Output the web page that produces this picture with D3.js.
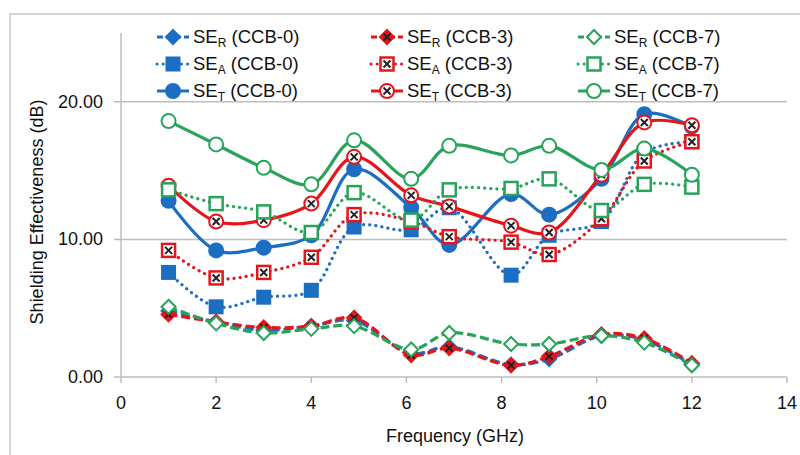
<!DOCTYPE html>
<html>
<head>
<meta charset="utf-8">
<script src="https://cdn.jsdelivr.net/npm/d3@7"></script>
<style>
  html, body { margin: 0; padding: 0; background: #fff; }
  svg { display: block; font-family: "Liberation Sans", Arial, sans-serif; }
</style>
</head>
<body>
<div id="chart-area"></div>
<script>
const freq = [1, 2, 3, 4, 4.9, 6.1, 6.9, 8.2, 9, 10.1, 11, 12];

const seR0 = [4.8, 4.0, 3.4, 3.7, 4.1, 1.7, 2.2, 0.9, 1.3, 3.0, 2.7, 0.9];
const seR3 = [4.55, 4.0, 3.6, 3.7, 4.3, 1.6, 2.1, 0.85, 1.5, 3.1, 2.8, 1.0];
const seR7 = [5.1, 3.9, 3.2, 3.5, 3.7, 2.0, 3.2, 2.4, 2.4, 3.0, 2.5, 0.85];
const seA0 = [7.6, 5.1, 5.8, 6.3, 10.9, 10.7, 12.3, 7.4, 10.3, 11.3, 16.3, 17.1];
const seA3 = [9.2, 7.2, 7.6, 8.7, 11.8, 11.3, 10.2, 9.8, 8.9, 11.5, 15.7, 17.1];
const seA7 = [13.6, 12.6, 12.0, 10.5, 13.4, 11.4, 13.6, 13.7, 14.4, 12.1, 14.0, 13.8];
const seT0 = [12.8, 9.2, 9.4, 10.3, 15.1, 12.3, 9.6, 13.3, 11.8, 14.4, 19.1, 18.2];
const seT3 = [13.9, 11.3, 11.4, 12.6, 16.0, 13.2, 12.4, 11.0, 10.5, 14.7, 18.5, 18.3];
const seT7 = [18.6, 16.9, 15.2, 14.0, 17.2, 14.4, 16.8, 16.1, 16.8, 15.05, 16.6, 14.7];

const xTicks = [0, 2, 4, 6, 8, 10, 12, 14];
const yTicks = [0, 10, 20];

const blue = "#1b6ec2", red = "#e3161c", green = "#27a35a";

// kind: R = dashed/diamond, A = dotted/square, T = solid/circle
const series = [
  {sub: "R", name: "CCB-0", kind: "R", color: blue, fill: blue, cross: false, values: seR0},
  {sub: "A", name: "CCB-0", kind: "A", color: blue, fill: blue, cross: false, values: seA0},
  {sub: "T", name: "CCB-0", kind: "T", color: blue, fill: blue, cross: false, values: seT0},
  {sub: "R", name: "CCB-3", kind: "R", color: red, fill: red, cross: true, values: seR3},
  {sub: "A", name: "CCB-3", kind: "A", color: red, fill: "#fff", cross: true, values: seA3},
  {sub: "T", name: "CCB-3", kind: "T", color: red, fill: "#fff", cross: true, values: seT3},
  {sub: "R", name: "CCB-7", kind: "R", color: green, fill: "#fff", cross: false, values: seR7},
  {sub: "A", name: "CCB-7", kind: "A", color: green, fill: "#fff", cross: false, values: seA7},
  {sub: "T", name: "CCB-7", kind: "T", color: green, fill: "#fff", cross: false, values: seT7}
];

const W = 800, H = 455;
const x = d3.scaleLinear().domain([0, 14]).range([121, 787]);
const y = d3.scaleLinear().domain([0, 25]).range([377, 33]);

const svg = d3.select("#chart-area")
  .append("svg")
  .attr("width", W)
  .attr("height", H);

// outer frame (cut off at right/bottom)
svg.append("rect")
  .attr("x", 10).attr("y", 14)
  .attr("width", 820).attr("height", 500)
  .attr("fill", "none")
  .attr("stroke", "#d4d4d4")
  .attr("stroke-width", 2);

// horizontal grid + y ticks
svg.selectAll(".y-grid")
  .data(yTicks)
  .enter()
  .append("line")
  .attr("x1", 114).attr("x2", x(14))
  .attr("y1", d => y(d)).attr("y2", d => y(d))
  .attr("stroke", "#bdbdbd")
  .attr("stroke-width", 1.5);

svg.append("line")
  .attr("x1", x(0)).attr("x2", x(0))
  .attr("y1", y(25)).attr("y2", y(0))
  .attr("stroke", "#bdbdbd")
  .attr("stroke-width", 1.5);

svg.selectAll(".x-tick")
  .data(xTicks)
  .enter()
  .append("line")
  .attr("x1", d => x(d)).attr("x2", d => x(d))
  .attr("y1", y(0)).attr("y2", y(0) + 6)
  .attr("stroke", "#bdbdbd")
  .attr("stroke-width", 1.5);

svg.selectAll(".y-label")
  .data(yTicks)
  .enter()
  .append("text")
  .attr("x", 103)
  .attr("y", d => y(d))
  .attr("text-anchor", "end")
  .attr("dominant-baseline", "central")
  .style("font-size", "18px")
  .style("fill", "#111")
  .text(d => d.toFixed(2));

svg.selectAll(".x-label")
  .data(xTicks)
  .enter()
  .append("text")
  .attr("x", d => x(d))
  .attr("y", 403)
  .attr("text-anchor", "middle")
  .attr("dominant-baseline", "central")
  .style("font-size", "18px")
  .style("fill", "#111")
  .text(d => d);

svg.append("text")
  .attr("x", 455)
  .attr("y", 436)
  .attr("text-anchor", "middle")
  .attr("dominant-baseline", "central")
  .style("font-size", "18px")
  .style("fill", "#111")
  .text("Frequency (GHz)");

svg.append("text")
  .attr("transform", "rotate(-90)")
  .attr("x", -212)
  .attr("y", 37)
  .attr("text-anchor", "middle")
  .attr("dominant-baseline", "central")
  .style("font-size", "18px")
  .style("fill", "#111")
  .text("Shielding Effectiveness (dB)");

function dashFor(kind) {
  if (kind === "R") return "9,4";
  if (kind === "A") return "0.1,6";
  return null;
}

function drawMarker(g, s, cx, cy) {
  const sw = 2;
  if (s.kind === "R") {
    const r = 7;
    g.append("path")
      .attr("d", `M${cx},${cy - r}L${cx + r},${cy}L${cx},${cy + r}L${cx - r},${cy}Z`)
      .attr("fill", s.fill).attr("stroke", s.color).attr("stroke-width", sw);
  } else if (s.kind === "A") {
    const h = 6.5;
    g.append("rect")
      .attr("x", cx - h).attr("y", cy - h)
      .attr("width", 2 * h).attr("height", 2 * h)
      .attr("fill", s.fill).attr("stroke", s.color).attr("stroke-width", s.fill === "#fff" ? 2.5 : sw);
  } else {
    g.append("circle")
      .attr("cx", cx).attr("cy", cy).attr("r", 7)
      .attr("fill", s.fill).attr("stroke", s.color).attr("stroke-width", sw);
  }
  if (s.cross) {
    const c = 3.5;
    g.append("path")
      .attr("d", `M${cx - c},${cy - c}L${cx + c},${cy + c}M${cx + c},${cy - c}L${cx - c},${cy + c}`)
      .attr("stroke", "#222").attr("stroke-width", 2);
  }
}

const line = d3.line()
  .x(d => x(d[0]))
  .y(d => y(d[1]))
  .curve(d3.curveCatmullRom.alpha(0.5));

series.forEach(s => {
  const pts = freq.map((f, i) => [f, s.values[i]]);
  const g = svg.append("g");
  g.append("path")
    .datum(pts)
    .attr("d", line)
    .attr("fill", "none")
    .attr("stroke", s.color)
    .attr("stroke-width", 3.2)
    .attr("stroke-linecap", s.kind === "A" ? "round" : "butt")
    .attr("stroke-dasharray", dashFor(s.kind));
  pts.forEach(p => drawMarker(g, s, x(p[0]), y(p[1])));
});

// legend
const legCols = [173, 387, 594];
const legRows = [37, 64, 91];
series.forEach((s, i) => {
  const cx = legCols[Math.floor(i / 3)];
  const cy = legRows[i % 3];
  const g = svg.append("g");
  g.append("line")
    .attr("x1", cx - 16).attr("x2", cx + 16)
    .attr("y1", cy).attr("y2", cy)
    .attr("stroke", s.color)
    .attr("stroke-width", 3)
    .attr("stroke-linecap", s.kind === "A" ? "round" : "butt")
    .attr("stroke-dasharray", s.kind === "R" ? "6,3" : dashFor(s.kind));
  drawMarker(g, s, cx, cy);
  const t = g.append("text")
    .attr("x", cx + 20)
    .attr("y", cy + 6)
    .style("font-size", "18.5px")
    .style("fill", "#111");
  t.append("tspan").text("SE");
  t.append("tspan").attr("dy", 4).style("font-size", "12px").text(s.sub);
  t.append("tspan").attr("dy", -4).text(" (" + s.name + ")");
});
</script>
</body>
</html>
